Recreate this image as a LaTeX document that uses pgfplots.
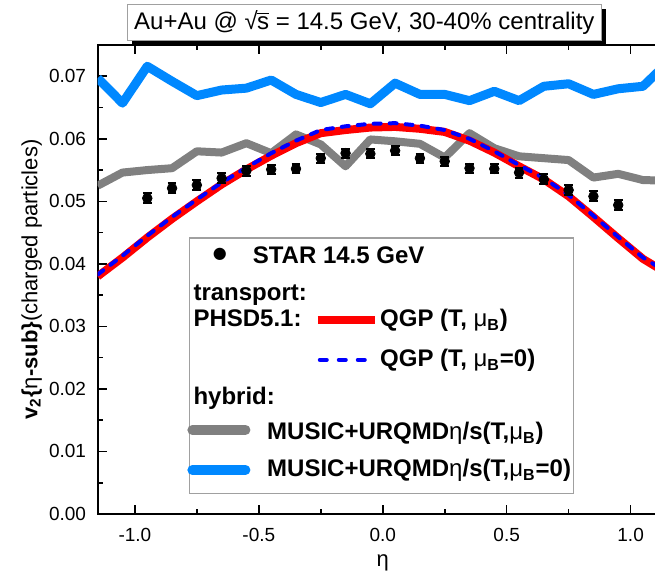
\documentclass[border=0pt]{standalone}
\usepackage{fontspec}
\setmainfont{Liberation Sans}
\newfontfamily\symfont{DejaVu Sans}
\usepackage{pgfplots}
\usepackage{pgfplotstable}
\pgfplotsset{compat=1.18}

\definecolor{musicblue}{RGB}{0,136,255}
\definecolor{musicgray}{RGB}{128,128,128}
\definecolor{qgpred}{RGB}{255,0,0}
\definecolor{qgpblue}{RGB}{0,0,255}
\definecolor{boxgray}{RGB}{160,160,160}

% MUSIC+UrQMD hybrid: eta/s(T,muB=0) and eta/s(T,muB)
\pgfplotstableread{
eta   mu0     mub
-1.15 0.0697 0.0525
-1.05 0.0657 0.0546
-0.95 0.0716 0.0550
-0.85 0.0692 0.0553
-0.75 0.0669 0.0580
-0.65 0.0678 0.0578
-0.55 0.0681 0.0593
-0.45 0.0694 0.0577
-0.35 0.0671 0.0607
-0.25 0.0658 0.0591
-0.15 0.0671 0.0556
-0.05 0.0656 0.0599
0.05  0.0689 0.0596
0.15  0.0671 0.0592
0.25  0.0671 0.0570
0.35  0.0661 0.0609
0.45  0.0676 0.0585
0.55  0.0661 0.0572
0.65  0.0684 0.0569
0.75  0.0688 0.0566
0.85  0.0671 0.0538
0.95  0.0680 0.0544
1.05  0.0684 0.0534
1.15  0.0722 0.0533
}\hybrid

% PHSD5.1: QGP(T,muB) and QGP(T,muB=0)
\pgfplotstableread{
eta   qgp    qgp0
-1.15 0.0380 0.0383
-1.05 0.0410 0.0413
-0.95 0.0442 0.0445
-0.85 0.0472 0.0475
-0.75 0.0500 0.0503
-0.65 0.0527 0.0530
-0.55 0.0551 0.0554
-0.45 0.0573 0.0577
-0.35 0.0593 0.0597
-0.25 0.0609 0.0614
-0.15 0.0614 0.0620
-0.05 0.0618 0.0624
0.05  0.0619 0.0625
0.15  0.0616 0.0621
0.25  0.0611 0.0614
0.35  0.0597 0.0600
0.45  0.0578 0.0580
0.55  0.0556 0.0558
0.65  0.0535 0.0537
0.75  0.0508 0.0510
0.85  0.0475 0.0477
0.95  0.0441 0.0443
1.05  0.0408 0.0410
1.15  0.0384 0.0386
}\phsd

% STAR 14.5 GeV
\pgfplotstableread{
eta   v2     err
-0.95 0.0505 0.0008
-0.85 0.0521 0.0008
-0.75 0.0526 0.0008
-0.65 0.0537 0.0008
-0.55 0.0549 0.0008
-0.45 0.0551 0.0007
-0.35 0.0552 0.0007
-0.25 0.0569 0.0007
-0.15 0.0577 0.0007
-0.05 0.0576 0.0007
0.05  0.0581 0.0007
0.15  0.0569 0.0007
0.25  0.0564 0.0007
0.35  0.0553 0.0007
0.45  0.0552 0.0007
0.55  0.0546 0.0008
0.65  0.0535 0.0008
0.75  0.0518 0.0008
0.85  0.0508 0.0008
0.95  0.0494 0.0008
}\star

\begin{document}
\begin{tikzpicture}
\begin{axis}[name=ax, scale only axis, width=285.05pt, height=234.5pt,
  xmin=-1.15, xmax=1.15, ymin=0, ymax=0.075,
  clip mode=individual,
  xtick={-1,-0.5,0,0.5,1}, minor xtick={-0.75,-0.25,0.25,0.75},
  ytick={0,0.01,...,0.07}, minor y tick num=1,
  scaled y ticks=false,
  tick align=inside,
  major tick length=4.5pt, minor tick length=2.5pt,
  every tick/.style={black, line width=0.8pt},
  axis line style={line width=1pt},
  /pgf/number format/assume math mode=true,
  tick label style={font=\fontsize{9.5}{11}\selectfont},
  xticklabel style={yshift=-3.7pt, /pgf/number format/.cd, fixed, fixed zerofill, precision=1},
  yticklabel style={xshift=-2.3pt, /pgf/number format/.cd, fixed, fixed zerofill, precision=2},
  xlabel={η},
  every axis x label/.style={at={(axis description cs:0.5,-0.1045)}, anchor=center, font=\fontsize{11}{13}\selectfont},
  ylabel={\textbf{v\textsubscript{2}\{}η\textbf{-sub\}}(charged particles)},
  every axis y label/.style={at={(axis description cs:-0.1158,0.5)}, rotate=90, anchor=center, font=\fontsize{11}{13}\selectfont},
]
\addplot[musicblue, line width=4.5pt, line join=round] table[x=eta, y=mu0] {\hybrid};
\addplot[musicgray, line width=4pt, line join=round] table[x=eta, y=mub] {\hybrid};
\addplot[qgpred, line width=4pt, line join=round] table[x=eta, y=qgp] {\phsd};
\addplot[qgpblue, line width=2pt, line cap=round, dash pattern=on 3.5pt off 4.5pt] table[x=eta, y=qgp0] {\phsd};
\addplot[black, only marks, mark=*, mark size=2.4pt,
  error bars/.cd, y dir=both, y explicit,
  error mark options={rotate=90, mark size=2.2pt, line width=1pt},
  error bar style={line width=1pt}]
  table[x=eta, y=v2, y error=err] {\star};

% title box with shadow
\node[fill=black, minimum width=237pt, minimum height=18pt, inner sep=0pt]
  at ([shift={(2.5pt,-2.5pt)}]axis cs:-0.0742,0.0786) {};
\node[fill=white, draw=boxgray, line width=0.5pt, minimum width=237pt, minimum height=18pt, inner sep=0pt,
  font=\fontsize{12}{14}\selectfont]
  at (axis cs:-0.0742,0.0786) {Au+Au @ √\kern-0.3pt$\overline{\mbox{s}}$ = 14.5 GeV, 30-40\% centrality};

% legend
\draw[boxgray, fill=white, line width=0.6pt] (axis cs:-0.781,0.04413) rectangle (axis cs:0.768,0.00331);
\begin{scope}[every node/.style={anchor=base west, inner sep=0pt, font=\fontsize{12}{14}\selectfont\bfseries}]
\node[anchor=center, font=\fontsize{8}{8}\selectfont\symfont] at (axis cs:-0.657,0.04146) {●};
\node at (axis cs:-0.5257,0.04013) {STAR 14.5 GeV};
\node at (axis cs:-0.765,0.03410) {transport:};
\node at (axis cs:-0.765,0.02998) {PHSD5.1:};
\draw[qgpred, line width=4pt] (axis cs:-0.262,0.03106) -- (axis cs:-0.032,0.03106);
\node at (axis cs:-0.0117,0.02998) {QGP (T, {\mdseries μ}\textsubscript{B})};
\draw[qgpblue, line width=2pt, line cap=round, dash pattern=on 3.5pt off 6pt] (axis cs:-0.254,0.02465) -- (axis cs:-0.040,0.02465);
\node at (axis cs:-0.0117,0.02359) {QGP (T, {\mdseries μ}\textsubscript{B}=0)};
\node at (axis cs:-0.765,0.01745) {hybrid:};
\draw[musicgray, line width=5pt, line cap=round] (axis cs:-0.768,0.01345) -- (axis cs:-0.554,0.01345);
\node at (axis cs:-0.4676,0.01185) {MUSIC+URQMD{\mdseries η}/s(T,{\mdseries μ}\textsubscript{B})};
\draw[musicblue, line width=5pt, line cap=round] (axis cs:-0.768,0.00704) -- (axis cs:-0.554,0.00704);
\node at (axis cs:-0.4676,0.00597) {MUSIC+URQMD{\mdseries η}/s(T,{\mdseries μ}\textsubscript{B}=0)};
\end{scope}
\end{axis}
\pgfresetboundingbox
\path ([shift={(-48.85pt,-30.5pt)}]ax.south west) rectangle ([shift={(278.65pt,22.5pt)}]ax.north west);
\end{tikzpicture}
\end{document}
